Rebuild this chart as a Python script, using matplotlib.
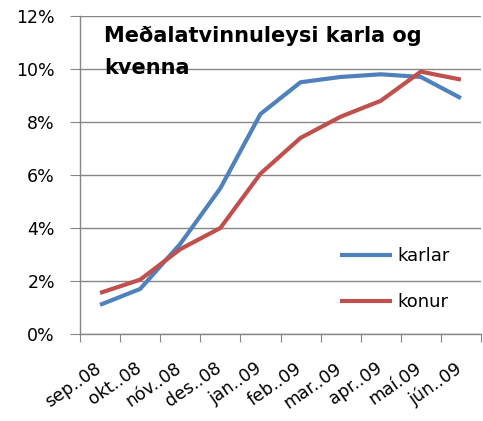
import matplotlib
matplotlib.use("Agg")
import matplotlib.pyplot as plt
import matplotlib.transforms as mtransforms
from matplotlib.ticker import FuncFormatter

categories = ["sep..08", "okt..08", "nóv..08", "des..08", "jan..09", "feb..09",
              "mar..09", "apr..09", "maí.09", "jún..09"]
karlar = [1.1, 1.7, 3.4, 5.5, 8.3, 9.5, 9.7, 9.8, 9.7, 8.9]
konur = [1.55, 2.05, 3.2, 4.0, 6.05, 7.4, 8.2, 8.8, 9.9, 9.6]
yticks = [0, 2, 4, 6, 8, 10, 12]
title = "Meðalatvinnuleysi karla og\nkvenna"

plt.rcParams['font.family'] = ['DejaVu Sans']

fig = plt.figure(figsize=(4.83, 4.21), dpi=100)
ax = fig.add_axes([80/483, 1-334/421, 401/483, 318/421])

x = list(range(len(categories)))
ax.plot(x, karlar, color="#4F81BD", lw=3, label="karlar", solid_capstyle='butt')
ax.plot(x, konur, color="#C0504D", lw=3, label="konur", solid_capstyle='butt')

ax.set_xlim(-0.5, len(categories) - 0.5)
ax.set_ylim(0, 12)
ax.set_yticks(yticks)
ax.yaxis.set_major_formatter(FuncFormatter(lambda v, p: f"{v:.0f}%"))
ax.grid(axis='y', color='#868686', lw=1)
ax.set_axisbelow(True)
for s in ['top', 'right']:
    ax.spines[s].set_visible(False)
for s in ['left', 'bottom']:
    ax.spines[s].set_color('#868686')
    ax.spines[s].set_linewidth(1)

ax.set_xticks([i - 0.5 for i in range(len(categories) + 1)], minor=False)
ax.set_xticklabels([])
ax.set_xticks(x, minor=True)
ax.set_xticklabels(categories, minor=True, rotation=35, ha='right', rotation_mode='anchor', fontsize=12.5)
ax.tick_params(axis='x', which='minor', length=0, pad=18)
ax.tick_params(axis='x', which='major', length=6, color='#868686', direction='out')
ax.tick_params(axis='y', length=7, color='#868686', labelsize=12.5, pad=11)

offset = mtransforms.ScaledTranslation(-6/100, 0, fig.dpi_scale_trans)
for lbl in ax.get_xticklabels(minor=True):
    lbl.set_transform(lbl.get_transform() + offset)

ax.text((104-80)/401, 1 - (26-16)/318, title, transform=ax.transAxes,
        fontsize=15, fontweight='bold', va='top', ha='left', linespacing=1.75)

ax.legend(loc='upper left', bbox_to_anchor=(331/483, 1-238/421), bbox_transform=fig.transFigure,
          frameon=False, fontsize=13, handlelength=2.9, labelspacing=1.55, handletextpad=0.3, borderpad=0)

fig.savefig("out.png", dpi=100)
